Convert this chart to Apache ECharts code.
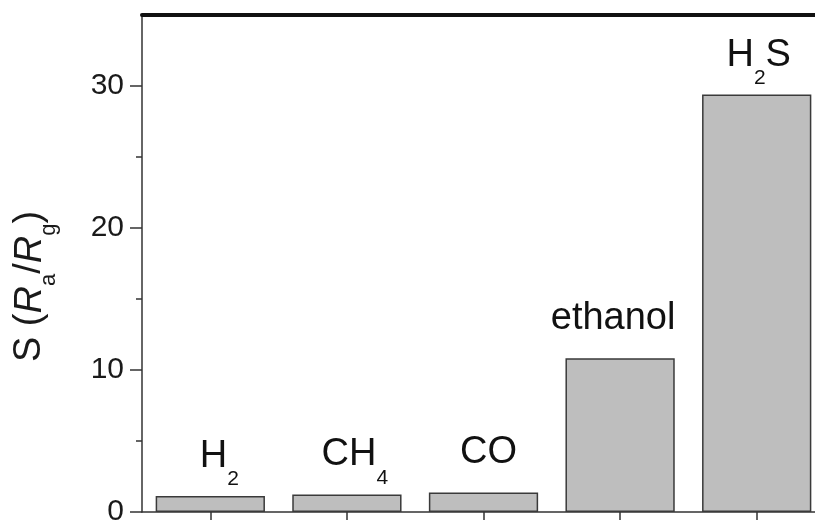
<!DOCTYPE html>
<html>
<head>
<meta charset="utf-8">
<script src="https://cdn.jsdelivr.net/npm/echarts@6/dist/echarts.min.js"></script>
<style>
  html, body { margin: 0; padding: 0; background: #ffffff; }
  #chart { width: 815px; height: 520px; }
</style>
</head>
<body>
<div id="chart"></div>
<script>
// ---- data ----
const categories = ['H2', 'CH4', 'CO', 'ethanol', 'H2S'];
const values = [1.12, 1.24, 1.38, 10.82, 29.4];
const barLabels = ['{m|H}{s|2}', '{m|CH}{s|4}', '{m|CO}', '{m|ethanol}', '{m|H}{s|2}{m|S}'];
const yMajorTicks = [0, 10, 20, 30];
const yMinorTicks = [5, 15, 25];
const yMin = 0;
const yMax = 35;
const yName = '{n|S (}{i|R}{s|a}{n|/}{i|R}{s|g}{n|)}';

// ---- style ----
const FONT = '"Liberation Sans", Arial, sans-serif';
const AXIS_COLOR = '#333333';
const labelShiftX = [9, 8, 5, -7, 2];

const chart = echarts.init(document.getElementById('chart'), null, { renderer: 'canvas' });

const option = {
  animation: false,
  backgroundColor: '#ffffff',
  grid: { left: 142, right: -10, top: 15, bottom: 8, containLabel: false, outerBoundsMode: 'none' },
  xAxis: [
    {
      type: 'category',
      data: categories,
      position: 'bottom',
      axisLine: { show: true, onZero: false, lineStyle: { color: AXIS_COLOR, width: 1.5 } },
      axisTick: { show: true, alignWithLabel: true, length: 10, lineStyle: { color: AXIS_COLOR, width: 1.5 } },
      axisLabel: { show: false },
      splitLine: { show: false }
    },
    {
      type: 'category',
      data: categories,
      position: 'top',
      axisLine: { show: true, onZero: false, lineStyle: { color: '#111111', width: 4 } },
      axisTick: { show: false },
      axisLabel: { show: false },
      splitLine: { show: false }
    }
  ],
  yAxis: [
    {
      type: 'value',
      min: yMin,
      max: yMax,
      interval: 10,
      position: 'left',
      axisLine: { show: true, onZero: false, lineStyle: { color: AXIS_COLOR, width: 1.5 } },
      axisTick: { show: true, inside: false, length: 12, customValues: yMajorTicks, lineStyle: { color: AXIS_COLOR, width: 1.5 } },
      axisLabel: {
        show: true,
        customValues: yMajorTicks,
        margin: 18,
        fontSize: 30,
        fontFamily: FONT,
        color: '#1a1a1a'
      },
      splitLine: { show: false },
      name: yName,
      nameLocation: 'middle',
      nameGap: 82,
      nameTextStyle: {
        fontFamily: FONT,
        color: '#1a1a1a',
        padding: [0, 46, 0, 0],
        rich: {
          n: { fontSize: 38, lineHeight: 60, fontFamily: FONT, color: '#1a1a1a', verticalAlign: 'middle' },
          i: { fontSize: 38, lineHeight: 60, fontStyle: 'italic', fontFamily: FONT, color: '#1a1a1a', verticalAlign: 'middle' },
          s: { fontSize: 22, lineHeight: 22, padding: [38, 0, 0, 0], fontFamily: FONT, color: '#1a1a1a', verticalAlign: 'middle' }
        }
      }
    },
    {
      type: 'value',
      min: yMin,
      max: yMax,
      interval: 5,
      position: 'left',
      offset: 0,
      axisLine: { show: false, onZero: false },
      axisTick: { show: true, inside: false, length: 6, customValues: yMinorTicks, lineStyle: { color: AXIS_COLOR, width: 1.5 } },
      axisLabel: { show: false },
      splitLine: { show: false }
    }
  ],
  series: [
    {
      type: 'bar',
      xAxisIndex: 0,
      yAxisIndex: 0,
      barWidth: '80%',
      data: values.map((v, i) => ({
        value: v,
        label: { offset: [labelShiftX[i], 0], formatter: barLabels[i] }
      })),
      itemStyle: { color: '#bebebe', borderColor: '#3a3a3a', borderWidth: 1.5 },
      label: {
        show: true,
        position: 'top',
        distance: 6,
        color: '#111111',
        fontFamily: FONT,
        rich: {
          m: { fontSize: 38, lineHeight: 67, fontFamily: FONT, color: '#111111', verticalAlign: 'middle' },
          s: { fontSize: 21, lineHeight: 21, padding: [46, 0, 0, 0], fontFamily: FONT, color: '#111111', verticalAlign: 'middle' }
        }
      }
    }
  ]
};

chart.setOption(option);
</script>
</body>
</html>
